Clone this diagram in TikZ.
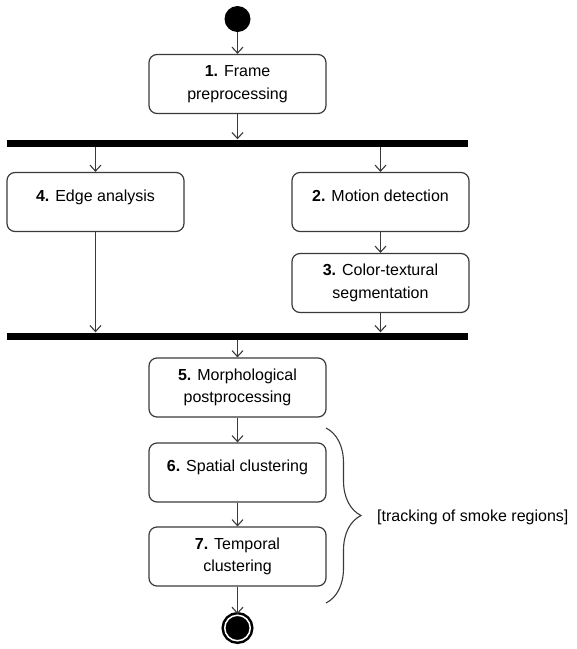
\documentclass[tikz,border=0pt]{standalone}
\usepackage{fontspec}
\setmainfont{Liberation Sans}
\usetikzlibrary{arrows.meta,decorations.pathreplacing}
\definecolor{linegray}{HTML}{3A3A3A}
\begin{document}
\begin{tikzpicture}[x=1pt, y=1pt,
    act/.style={rectangle, rounded corners=8pt, draw=linegray, line width=1.2pt,
      minimum width=177pt, minimum height=59pt, align=center, inner sep=2pt,
      font=\fontsize{16}{22.5}\selectfont},
    oneline/.style={text depth=13.5pt},
    bar/.style={rectangle, fill=black, minimum width=461pt, minimum height=7pt, inner sep=0pt},
    flow/.style={draw=linegray, line width=1.1pt, -{Straight Barb[length=6pt, width=11pt]}}]
    \useasboundingbox (0,0) rectangle (577,-649);

    % Start and first step
    \node[circle, fill=black, minimum size=26pt, inner sep=0pt] (start) at (237.5,-19) {};
    \node[act] (a1) at (237.5,-84) {\textbf{1.} Frame\\preprocessing};

    % Fork
    \node[bar] (fork) at (237.5,-143) {};
    \node[act, oneline] (a4) at (95.5,-202) {\textbf{4.} Edge analysis};
    \node[act, oneline] (a2) at (380.5,-202) {\textbf{2.} Motion detection};
    \node[act] (a3) at (380.5,-283) {\textbf{3.} Color-textural\\segmentation};

    % Join
    \node[bar] (join) at (237.5,-336) {};

    % Tracking steps
    \node[act] (a5) at (237.5,-387.5) {\textbf{5.} Morphological\\postprocessing};
    \node[act, oneline] (a6) at (237.5,-472.5) {\textbf{6.} Spatial clustering};
    \node[act] (a7) at (237.5,-556.5) {\textbf{7.} Temporal\\clustering};

    % End
    \node[circle, draw=black, fill=black, double=white, double distance=1.5pt,
      line width=2.5pt, minimum size=25.5pt, inner sep=0pt] (stop) at (237.5,-628) {};

    % Brace
    \coordinate (btop) at (326,-428);
    \coordinate (bbot) at (326,-603);
    \draw[linegray, line width=1.1pt, decorate, decoration={brace, amplitude=35pt, aspect=0.5}] (btop) -- (bbot);
    \node[anchor=west, inner sep=0pt, font=\fontsize{16}{22.5}\selectfont] (track) at (377,-517) {[tracking of smoke regions]};

    % Connections
    \draw[flow] (start) -- (a1);
    \draw[flow] (a1) -- (fork);
    \draw[flow] (fork.south -| a4) -- (a4);
    \draw[flow] (fork.south -| a2) -- (a2);
    \draw[flow] (a2) -- (a3);
    \draw[flow] (a4) -- (a4 |- join.north);
    \draw[flow] (a3) -- (a3 |- join.north);
    \draw[flow] (join) -- (a5);
    \draw[flow] (a5) -- (a6);
    \draw[flow] (a6) -- (a7);
    \draw[flow] (a7) -- (stop);
\end{tikzpicture}
\end{document}
